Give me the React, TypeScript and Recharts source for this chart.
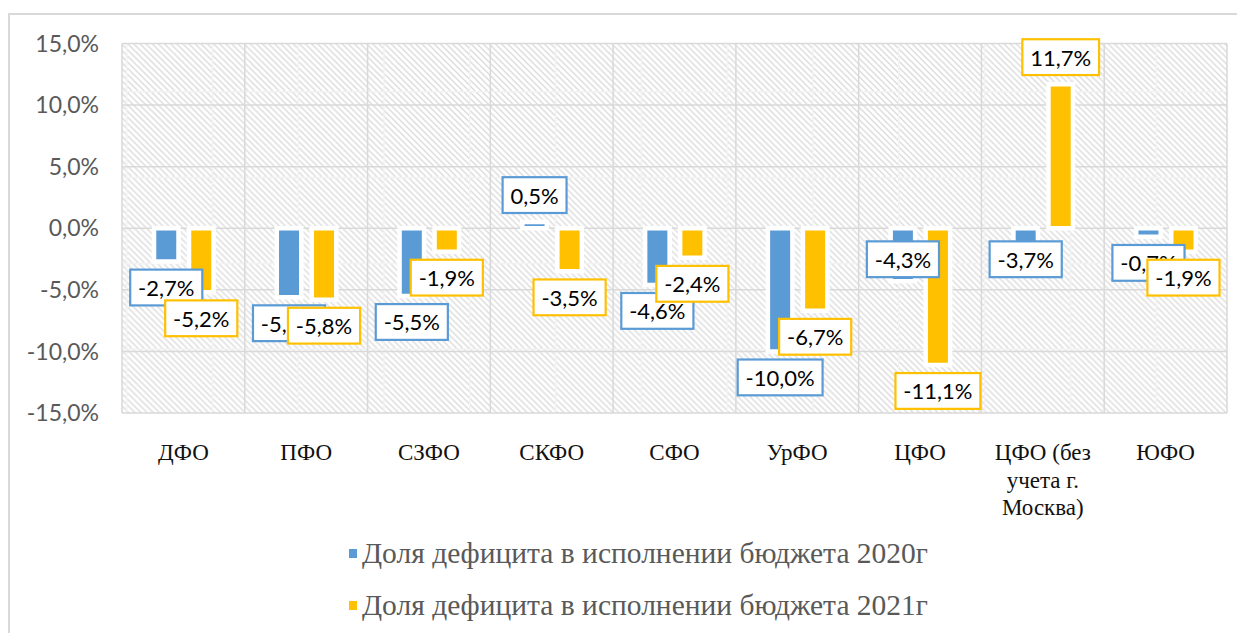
import React from "react";
import {
  BarChart,
  Bar,
  XAxis,
  YAxis,
  CartesianGrid,
  LabelList,
  Legend,
} from "recharts";

const categories = [
  "ДФО",
  "ПФО",
  "СЗФО",
  "СКФО",
  "СФО",
  "УрФО",
  "ЦФО",
  "ЦФО (без учета г. Москва)",
  "ЮФО",
];
const deficit2020 = [-2.7, -5.6, -5.5, 0.5, -4.6, -10.0, -4.3, -3.7, -0.7];
const deficit2021 = [-5.2, -5.8, -1.9, -3.5, -2.4, -6.7, -11.1, 11.7, -1.9];
const yTicks = [-15, -10, -5, 0, 5, 10, 15];
const seriesNames = [
  "Доля дефицита в исполнении бюджета 2020г",
  "Доля дефицита в исполнении бюджета 2021г",
];
// 2020 labels that were dragged up to the base of the bar in the original
const movedLabels2020 = ["ЦФО", "ЦФО (без учета г. Москва)"];

const BLUE = "#5B9BD5";
const YELLOW = "#FFC000";
const GRID = "#d9d9d9";
const TILE = 85.8;
const STEP = TILE / 14;

const data = categories.map((name, i) => ({
  name,
  y2020: deficit2020[i],
  y2021: deficit2021[i],
}));

const pct = (v: number) => v.toFixed(1).replace(".", ",") + "%";

let ctx: CanvasRenderingContext2D | null = null;
function textWidth(s: string, font: string) {
  if (!ctx) ctx = document.createElement("canvas").getContext("2d");
  if (!ctx) return s.length * 11;
  ctx.font = font;
  return ctx.measureText(s).width;
}

function wrap(s: string, max: number) {
  const lines: string[] = [];
  let cur = "";
  s.split(" ").forEach((w) => {
    if (cur && (cur + " " + w).length > max) {
      lines.push(cur);
      cur = w;
    } else {
      cur = cur ? cur + " " + w : w;
    }
  });
  if (cur) lines.push(cur);
  return lines;
}

function makeLabel(color: string, moved: string[]) {
  return (props: any) => {
    const { x, y, width, height, value, index } = props;
    const v = Number(value);
    const top = Math.min(y, y + height);
    const bottom = Math.max(y, y + height);
    const text = pct(v);
    const w = textWidth(text, "22px Lato") + 18;
    const h = 38;
    const cx = x + width / 2;
    let boxTop: number;
    if (moved.includes(categories[index])) boxTop = top + 12;
    else if (v < 0) boxTop = bottom + 7;
    else boxTop = top - 8 - h;
    return (
      <g>
        <rect
          x={cx - w / 2 + 1.1}
          y={boxTop + 1.1}
          width={w - 2.2}
          height={h - 2.2}
          fill="#fff"
          stroke={color}
          strokeWidth={2.2}
        />
        <text
          x={cx}
          y={boxTop + h / 2}
          textAnchor="middle"
          dominantBaseline="central"
          fontFamily="Lato"
          fontSize={22}
          fill="#000"
        >
          {text}
        </text>
      </g>
    );
  };
}

function CategoryTick(props: any) {
  const { x, y, payload } = props;
  const lines = wrap(String(payload.value), 9);
  return (
    <text
      x={x}
      y={y}
      textAnchor="middle"
      fontFamily="Liberation Serif"
      fontSize={23}
      fill="#111"
    >
      {lines.map((l, i) => (
        <tspan key={i} x={x} dy={i === 0 ? 47 : 27.5}>
          {l}
        </tspan>
      ))}
    </text>
  );
}

function LegendBox() {
  const colors = [BLUE, YELLOW];
  return (
    <div>
      {seriesNames.map((n, i) => (
        <div
          key={n}
          style={{
            display: "flex",
            alignItems: "center",
            height: 52,
            fontFamily: "Liberation Serif",
            fontSize: 29.5,
            color: "#595959",
            whiteSpace: "nowrap",
          }}
        >
          <span
            style={{
              display: "inline-block",
              width: 8,
              height: 9,
              background: colors[i],
              marginRight: 5,
            }}
          />
          {n}
        </div>
      ))}
    </div>
  );
}

const stripes = Array.from({ length: 29 }, (_, k) => k * STEP - TILE);

export default function App() {
  return (
    <div style={{ paddingTop: 5 }}>
      <style>{"body{overflow:hidden}"}</style>
      <svg width={0} height={0} style={{ position: "absolute" }}>
        <defs>
          <pattern
            id="hatch"
            patternUnits="userSpaceOnUse"
            x={30}
            y={76}
            width={TILE}
            height={TILE}
          >
            <rect width={TILE} height={TILE} fill="#fff" />
            {stripes.map((s, i) => (
              <line
                key={i}
                x1={s}
                y1={0}
                x2={s + TILE}
                y2={TILE}
                stroke="#dcdcdc"
                strokeWidth={1.4}
              />
            ))}
            <line x1={0} y1={0.75} x2={TILE} y2={0.75} stroke="#f2f2f2" strokeWidth={1.5} />
            <line x1={0.75} y1={0} x2={0.75} y2={TILE} stroke="#f2f2f2" strokeWidth={1.5} />
          </pattern>
        </defs>
      </svg>
      <div
        style={{
          width: 1235,
          height: 618,
          borderLeft: `2px solid ${GRID}`,
          borderTop: `2px solid ${GRID}`,
          overflow: "hidden",
        }}
      >
        <BarChart
          width={1235}
          height={618}
          data={data}
          margin={{ top: 28.5, right: 18, left: 0, bottom: 140 }}
          barGap={10.5}
        >
          <CartesianGrid
            stroke={GRID}
            strokeWidth={1.5}
            fill="url(#hatch)"
            fillOpacity={1}
            verticalCoordinatesGenerator={({ offset }: any) =>
              Array.from(
                { length: categories.length + 1 },
                (_, i) => offset.left + (i * offset.width) / categories.length
              )
            }
          />
          <XAxis
            dataKey="name"
            axisLine={false}
            tickLine={false}
            tickSize={0}
            tickMargin={0}
            interval={0}
            height={80}
            tick={<CategoryTick />}
          />
          <YAxis
            type="number"
            domain={[-15, 15]}
            ticks={yTicks}
            tickFormatter={pct}
            axisLine={false}
            tickLine={false}
            tickSize={0}
            tickMargin={23}
            width={112}
            tick={{ fontFamily: "Lato", fontSize: 23, fill: "#595959" }}
          />
          <Legend
            layout="horizontal"
            verticalAlign="middle"
            align="center"
            wrapperStyle={{ top: 512, left: 339, width: 800 }}
            content={() => <LegendBox />}
          />
          <Bar
            dataKey="y2020"
            name={seriesNames[0]}
            fill={BLUE}
            stroke="#fff"
            strokeWidth={4.5}
            barSize={24.5}
            isAnimationActive={false}
          >
            <LabelList dataKey="y2020" content={makeLabel(BLUE, movedLabels2020)} />
          </Bar>
          <Bar
            dataKey="y2021"
            name={seriesNames[1]}
            fill={YELLOW}
            stroke="#fff"
            strokeWidth={4.5}
            barSize={24.5}
            isAnimationActive={false}
          >
            <LabelList dataKey="y2021" content={makeLabel(YELLOW, [])} />
          </Bar>
        </BarChart>
      </div>
    </div>
  );
}
